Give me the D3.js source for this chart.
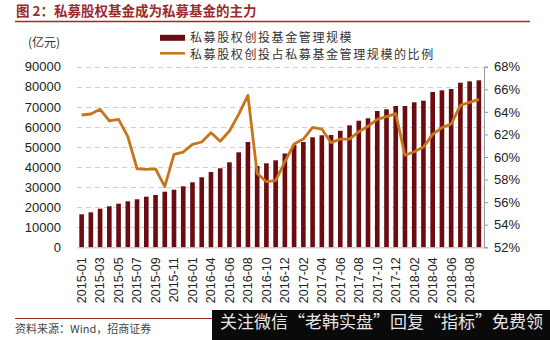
<!DOCTYPE html>
<html><head><meta charset="utf-8">
<script src="https://cdn.jsdelivr.net/npm/d3@7"></script>
<style>body{margin:0;background:#fff}</style>
</head><body><svg id="c" width="550" height="340"></svg>
<script>
const months = ["2015-01","2015-02","2015-03","2015-04","2015-05","2015-06","2015-07","2015-08","2015-09","2015-10","2015-11","2015-12",
"2016-01","2016-03","2016-04","2016-05","2016-06","2016-07","2016-08","2016-09","2016-10","2016-11","2016-12",
"2017-01","2017-02","2017-03","2017-04","2017-05","2017-06","2017-07","2017-08","2017-09","2017-10","2017-11","2017-12",
"2018-01","2018-02","2018-03","2018-04","2018-05","2018-06","2018-07","2018-08","2018-09"];
const scaleValues = [16440,17440,19240,20430,21730,22920,23920,25220,26060,27710,28700,30400,
32390,34880,37520,39370,42360,47340,52470,40500,41860,43350,46740,
50980,52470,54810,55810,55960,58050,60790,63090,64280,67920,68770,70410,
70410,72250,73050,77390,78230,78880,82020,82720,83220];
const ratioValues = [63.72,63.81,64.22,63.19,63.34,61.8,58.96,58.91,58.94,57.37,60.24,60.44,
61.12,61.33,62.15,61.39,62.3,63.78,65.46,58.55,57.81,57.9,59.58,
61.15,61.59,62.63,62.48,61.27,61.59,61.59,62.24,62.72,63.34,63.57,63.84,
60.15,60.47,60.88,62.0,62.6,62.92,64.57,64.84,65.11];
const leftTicks = [0,10000,20000,30000,40000,50000,60000,70000,80000,90000];
const rightTicks = [52,54,56,58,60,62,64,66,68];
const titleText = "图 2：私募股权基金成为私募基金的主力";
const unitText = "(亿元)";
const seriesNames = ["私募股权创投基金管理规模","私募股权创投占私募基金管理规模的比例"];
const sourceText = "资料来源：Wind，招商证券";
const watermarkText = "关注微信“老韩实盘”回复“指标”免费领";

const barColor = "#6a0c10", lineColor = "#c8741c";
const cjk = "'Noto Sans CJK SC', sans-serif";
const num = "'Liberation Sans', Arial, sans-serif";

const svg = d3.select("#c");
const plotTop = 66.7, plotBottom = 247.3, plotLeft = 77, plotRight = 483.5;

const x = d3.scaleBand().domain(months).range([plotLeft, plotRight]).paddingInner(0.5).paddingOuter(0.25);
const yL = d3.scaleLinear().domain([0, 90000]).range([plotBottom, plotTop]);
const yR = d3.scaleLinear().domain([52, 68]).range([plotBottom, plotTop]);

// title
svg.append("text").attr("x", 16).attr("y", 16).attr("fill", "#9b2a2c")
  .attr("font-family", cjk).attr("font-size", 13.5).attr("font-weight", 700).text(titleText);
svg.append("line").attr("x1", 15).attr("x2", 530).attr("y1", 21.5).attr("y2", 21.5)
  .attr("stroke", "#a0282c").attr("stroke-width", 1.3);

// gridlines
svg.append("g").selectAll("line").data(leftTicks.slice(1)).join("line")
  .attr("x1", plotLeft).attr("x2", plotRight).attr("y1", d => Math.round(yL(d)) + 0.5).attr("y2", d => Math.round(yL(d)) + 0.5)
  .attr("stroke", "#cfcfcf").attr("stroke-dasharray", "5,4").attr("stroke-width", 1);

// bars
svg.append("g").selectAll("rect").data(months).join("rect")
  .attr("x", d => x(d)).attr("width", x.bandwidth())
  .attr("y", (d, i) => yL(scaleValues[i])).attr("height", (d, i) => plotBottom - yL(scaleValues[i]))
  .attr("fill", barColor);

// line
const line = d3.line().x((d, i) => x(months[i]) + x.bandwidth() / 2).y(d => yR(d));
svg.append("path").datum(ratioValues).attr("d", line).attr("fill", "none")
  .attr("stroke", lineColor).attr("stroke-width", 2.8).attr("stroke-linejoin", "round");

// left axis
const gL = svg.append("g").attr("transform", `translate(${plotLeft},0)`)
  .call(d3.axisLeft(yL).tickValues(leftTicks).tickSize(0).tickPadding(16).tickFormat(d3.format("d")));
gL.select(".domain").remove();
gL.selectAll("text").attr("font-family", num).attr("font-size", 13).attr("fill", "#222");

// right axis
const gR = svg.append("g").attr("transform", `translate(${plotRight + 0.5},0)`)
  .call(d3.axisRight(yR).tickValues(rightTicks).tickSize(4).tickPadding(6).tickFormat(d => d + "%"));
gR.select(".domain").attr("stroke", "#999");
gR.selectAll(".tick line").attr("stroke", "#999");
gR.selectAll("text").attr("font-family", num).attr("font-size", 13).attr("fill", "#222");

// bottom axis
const gB = svg.append("g").attr("transform", `translate(0,${plotBottom})`)
  .call(d3.axisBottom(x).tickValues(months.filter((d, i) => i % 2 === 0)).tickSize(0));
gB.select(".domain").attr("stroke", "#bbb");
gB.selectAll("text").attr("font-family", num).attr("font-size", 12.5).attr("fill", "#222")
  .attr("text-anchor", "end").attr("transform", "rotate(-90)")
  .attr("x", -10).attr("y", 0).attr("dy", "0.35em");

// unit
svg.append("text").attr("x", 28).attr("y", 47).attr("font-family", cjk).attr("font-size", 12)
  .attr("fill", "#333").text(unitText);

// legend
svg.append("rect").attr("x", 160).attr("y", 34.8).attr("width", 25).attr("height", 6).attr("fill", barColor);
svg.append("line").attr("x1", 160).attr("x2", 185).attr("y1", 53.3).attr("y2", 53.3)
  .attr("stroke", lineColor).attr("stroke-width", 2.5);
svg.append("g").selectAll("text").data(seriesNames).join("text")
  .attr("x", 190).attr("y", (d, i) => 42 + i * 16.5).attr("font-family", cjk).attr("font-size", 12)
  .attr("letter-spacing", 1.6).attr("fill", "#333").text(d => d);

// footer
svg.append("line").attr("x1", 15).attr("x2", 530).attr("y1", 318.5).attr("y2", 318.5)
  .attr("stroke", "#a0282c").attr("stroke-width", 1.2);
svg.append("text").attr("x", 15).attr("y", 333).attr("font-family", cjk).attr("font-size", 11)
  .attr("fill", "#444").text(sourceText);
svg.append("rect").attr("x", 212).attr("y", 310).attr("width", 338).attr("height", 30).attr("fill", "#0a0a0a");
svg.append("text").attr("x", 220).attr("y", 328).attr("font-family", cjk).attr("font-size", 17)
  .attr("fill", "#e6e6e6").text(watermarkText);
</script></body></html>
